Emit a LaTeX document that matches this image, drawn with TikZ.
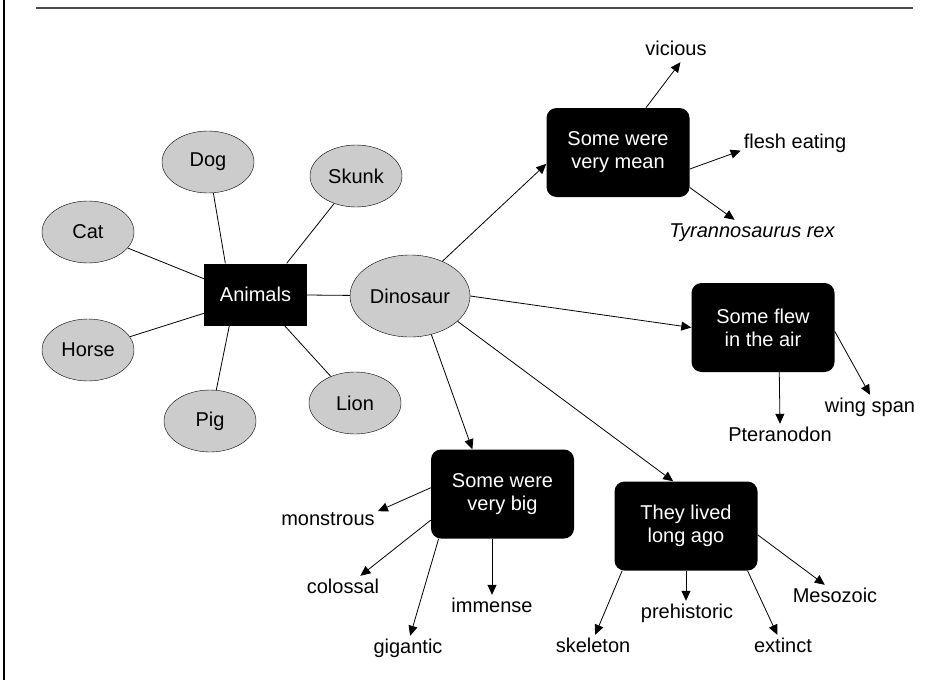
\documentclass[tikz,border=0pt]{standalone}
\usepackage{fontspec}
\setmainfont{Liberation Sans}
\usetikzlibrary{arrows.meta,shapes.geometric}

\tikzset{
  animal/.style={ellipse, draw, fill=black!20, minimum width=92pt, minimum height=62pt, inner sep=0pt},
  hub/.style={rectangle, fill=black, text=white, minimum width=103pt, minimum height=62pt},
  topic/.style={rectangle, rounded corners=10pt, fill=black, text=white, align=center, minimum width=143pt, minimum height=89pt},
  word/.style={inner sep=3pt, text height=14pt, text depth=4pt},
  tie/.style={line width=0.8pt},
  pointer/.style={line width=0.8pt, -{Triangle[length=10pt,width=9pt]}},
}

\begin{document}
\begin{tikzpicture}[x=1pt, y=-1pt, font=\fontsize{20}{23}\selectfont]
\useasboundingbox (0,0) rectangle (939,680);
% page frame
\draw[line width=1.2pt] (4,0) -- (4,680);
\draw[line width=2pt, black!70] (36,7.5) -- (913,7.5);

% animals
\node[hub] (animals) at (255.5,294.5) {Animals};
\node[animal] (cat) at (88,232) {Cat};
\node[animal] (dog) at (208,162) {Dog};
\node[animal] (skunk) at (356,176) {Skunk};
\node[animal] (horse) at (88,350) {Horse};
\node[animal] (pig) at (210,421) {Pig};
\node[animal] (lion) at (355,403) {Lion};
\node[animal, minimum width=120pt, minimum height=82pt] (dino) at (410,296) {Dinosaur};

\draw[tie] (animals.163) -- (cat);
\draw[tie] (animals.134) -- (dog);
\draw[tie] (animals.45) -- (skunk);
\draw[tie] (animals.200) -- (horse);
\draw[tie] (animals.230) -- (pig);
\draw[tie] (animals.-47) -- (lion);
\draw[tie] (animals) -- (dino);

% dinosaur topics
\node[topic] (mean) at (618,152.5) {Some were\\very mean};
\node[topic] (flew) at (763,327.5) {Some flew\\in the air};
\node[topic] (big) at (502.5,494) {Some were\\very big};
\node[topic] (lived) at (686,526) {They lived\\long ago};

\draw[pointer] (dino.47) -- (mean.189);
\draw[pointer] (dino.east) -- (flew.west);
\draw[pointer] (dino.-28) -- (lived.106);
\draw[pointer] (dino.-61) -- (big.124);

% mean
\node[word] (vicious) at (676,50) {vicious};
\node[word] (flesh) at (795,143) {flesh eating};
\node[word] (trex) at (752,232) {\itshape Tyrannosaurus rex};
\draw[pointer] (mean.58) -- (vicious.-70);
\draw[pointer] (mean.-13) -- (flesh.188);
\draw[pointer] (mean.-26) -- (trex.145);

% flew
\node[word] (wing) at (870,407) {wing span};
\node[word] (ptera) at (780,436) {Pteranodon};
\draw[pointer] (flew.-3) -- (wing.north);
\draw[pointer] (flew.-70) -- (ptera.north);

% big
\node[word] (monstrous) at (328,520) {monstrous};
\node[word] (colossal) at (343,588) {colossal};
\node[word] (gigantic) at (408,648) {gigantic};
\node[word] (immense) at (492,607) {immense};
\draw[pointer] (big.175) -- (monstrous.10);
\draw[pointer] (big.200) -- (colossal.35);
\draw[pointer] (big.215) -- (gigantic.80);
\draw[pointer] (immense.north |- big.south) -- (immense.north);

% lived
\node[word] (skeleton) at (593,647) {skeleton};
\node[word] (prehist) at (687,613) {prehistoric};
\node[word] (extinct) at (783,647) {extinct};
\node[word] (mesozoic) at (835,597) {Mesozoic};
\draw[pointer] (lived.215) -- (skeleton.80);
\draw[pointer] (lived.south) -- (lived.south |- prehist.north);
\draw[pointer] (lived.-36) -- (extinct.115);
\draw[pointer] (lived.-7) -- (mesozoic.130);
\end{tikzpicture}
\end{document}
